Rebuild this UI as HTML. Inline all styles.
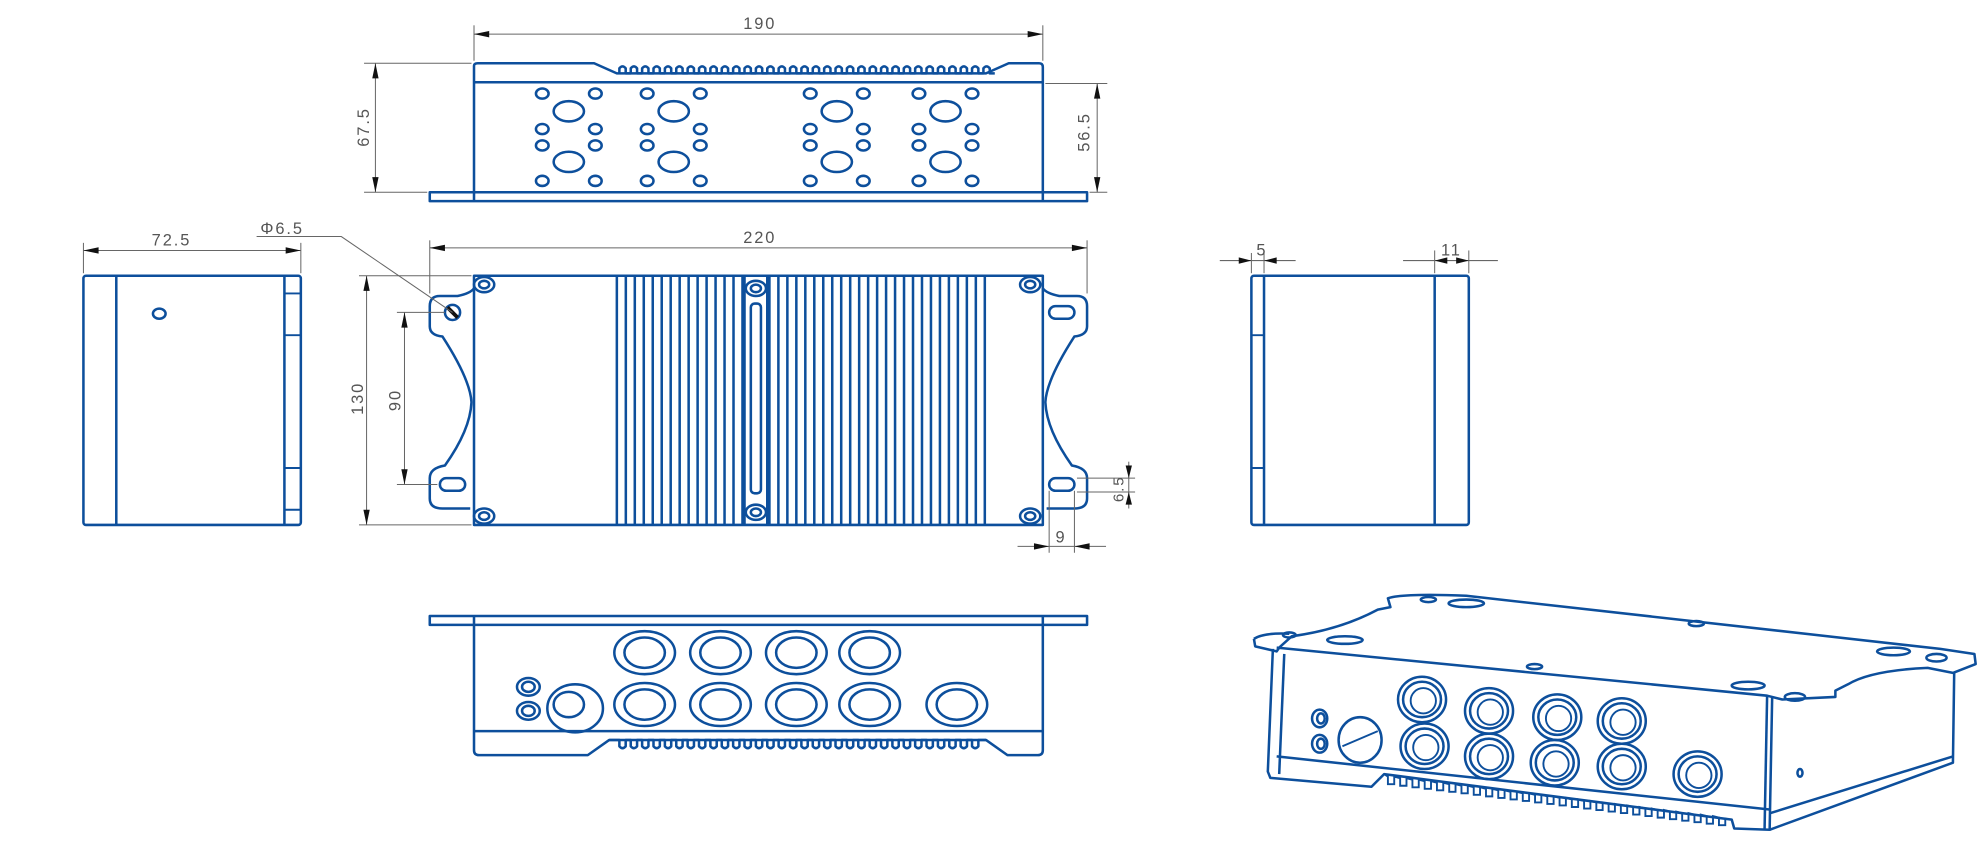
<!DOCTYPE html>
<html><head><meta charset="utf-8"><style>
html,body{margin:0;padding:0;background:#fff;}
svg{display:block;}
.b{fill:none;stroke:#0d4f9c;stroke-width:2;stroke-linejoin:round;}
.bt{fill:none;stroke:#0d4f9c;stroke-width:1.5;}
.d{fill:none;stroke:#666;stroke-width:0.8;}
.t{font-family:"Liberation Sans",sans-serif;font-size:13px;fill:#555;letter-spacing:1.5px;}
.ar{fill:#111;}
</style></head><body>
<svg id="s" width="1982" height="850" viewBox="0 0 1568 672" preserveAspectRatio="none" xmlns="http://www.w3.org/2000/svg">
<g id="g">
<!-- TOP VIEW -->
<path class="b" d="M375,159 V52 Q375,50 378,50 H470 L488,58 H780 L798,50 H822 Q825,50 825,53 V159"/>
<line class="b" x1="375" y1="65" x2="825" y2="65"/>
<rect class="b" x="340" y="152" width="520" height="7"/>
<g id="finsTop"></g>
<g id="holesTop"></g>
<line class="d" x1="375" y1="20" x2="375" y2="48"/><line class="d" x1="825" y1="20" x2="825" y2="48"/>
<line class="d" x1="375" y1="27" x2="825" y2="27"/>
<path class="ar" d="M375,27 l12,-2.5 v5z M825,27 l-12,-2.5 v5z"/>
<text class="t" x="588" y="23">190</text>
<line class="d" x1="288" y1="50" x2="373" y2="50"/><line class="d" x1="288" y1="152" x2="338" y2="152"/>
<line class="d" x1="297" y1="50" x2="297" y2="152"/>
<path class="ar" d="M297,50 l-2.5,12 h5z M297,152 l-2.5,-12 h5z"/>
<text class="t" transform="translate(292,116) rotate(-90)">67.5</text>
<line class="d" x1="827" y1="66" x2="876" y2="66"/><line class="d" x1="862" y1="152" x2="876" y2="152"/>
<line class="d" x1="868" y1="66" x2="868" y2="152"/>
<path class="ar" d="M868,66 l-2.5,12 h5z M868,152 l-2.5,-12 h5z"/>
<text class="t" transform="translate(862,120) rotate(-90)">56.5</text>

<!-- LEFT VIEW -->
<rect class="b" x="66" y="218" width="172" height="197" rx="2"/>
<line class="b" x1="92" y1="218" x2="92" y2="415"/>
<line class="b" x1="225" y1="218" x2="225" y2="415"/>
<path class="bt" d="M225,232 H238 M225,265 H238 M225,370 H238 M225,403 H238"/>
<ellipse class="b" cx="126" cy="248" rx="5" ry="4"/>
<line class="d" x1="66" y1="192" x2="66" y2="216"/><line class="d" x1="238" y1="192" x2="238" y2="216"/>
<line class="d" x1="66" y1="198" x2="238" y2="198"/>
<path class="ar" d="M66,198 l12,-2.5 v5z M238,198 l-12,-2.5 v5z"/>
<text class="t" x="120" y="194">72.5</text>

<!-- FRONT VIEW -->
<path class="b" d="M375,415 V218 H825 V415 Z"/>
<path class="b" d="M375,228 Q372,232 362,234 H348 Q340,234 340,242 V258 Q340,265 350,266 Q372,300 373,318 Q372,340 352,368 Q340,370 340,378 V394 Q340,402 350,402 H372"/>
<path class="b" d="M825,228 Q828,232 838,234 H852 Q860,234 860,242 V258 Q860,265 850,266 Q828,300 827,318 Q828,340 848,368 Q860,370 860,378 V394 Q860,402 850,402 H828"/>
<circle class="b" cx="358" cy="247" r="6"/>
<path d="M354,243 l8,8" stroke="#111" stroke-width="3"/>
<rect class="b" x="830" y="242" width="20" height="10" rx="5"/>
<rect class="b" x="348" y="378" width="20" height="10" rx="5"/>
<rect class="b" x="830" y="378" width="20" height="10" rx="5"/>
<g id="finsFront"></g>
<g id="screws"></g>
<line class="d" x1="340" y1="190" x2="340" y2="232"/><line class="d" x1="860" y1="190" x2="860" y2="232"/>
<line class="d" x1="340" y1="196" x2="860" y2="196"/>
<path class="ar" d="M340,196 l12,-2.5 v5z M860,196 l-12,-2.5 v5z"/>
<text class="t" x="588" y="192">220</text>
<line class="d" x1="284" y1="218" x2="373" y2="218"/><line class="d" x1="284" y1="415" x2="373" y2="415"/>
<line class="d" x1="290" y1="218" x2="290" y2="415"/>
<path class="ar" d="M290,218 l-2.5,12 h5z M290,415 l-2.5,-12 h5z"/>
<text class="t" transform="translate(287,328) rotate(-90)">130</text>
<line class="d" x1="314" y1="247" x2="352" y2="247"/><line class="d" x1="314" y1="383" x2="346" y2="383"/>
<line class="d" x1="320" y1="247" x2="320" y2="383"/>
<path class="ar" d="M320,247 l-2.5,12 h5z M320,383 l-2.5,-12 h5z"/>
<text class="t" transform="translate(317,325) rotate(-90)">90</text>
<path class="d" d="M203,187 H270 L358,247"/>
<text class="t" x="206" y="185" style="font-size:13px">&#934;6.5</text>
<line class="d" x1="830" y1="388" x2="830" y2="437"/><line class="d" x1="850" y1="388" x2="850" y2="437"/>
<line class="d" x1="805" y1="432" x2="875" y2="432"/>
<path class="ar" d="M830,432 l-12,-2.5 v5z M850,432 l12,-2.5 v5z"/>
<text class="t" x="835" y="429">9</text>
<line class="d" x1="852" y1="378" x2="898" y2="378"/><line class="d" x1="852" y1="389" x2="898" y2="389"/>
<line class="d" x1="893" y1="365" x2="893" y2="402"/>
<path class="ar" d="M893,378 l-2.5,-10 h5z M893,389 l-2.5,10 h5z"/>
<text class="t" transform="translate(889,397) rotate(-90)" style="font-size:12px">6.5</text>

<!-- RIGHT VIEW -->
<rect class="b" x="990" y="218" width="172" height="197" rx="2"/>
<line class="b" x1="1000" y1="218" x2="1000" y2="415"/>
<line class="b" x1="1135" y1="218" x2="1135" y2="415"/>
<path class="bt" d="M990,265 H1000 M990,370 H1000"/>
<line class="d" x1="990" y1="200" x2="990" y2="216"/><line class="d" x1="1000" y1="200" x2="1000" y2="216"/>
<line class="d" x1="965" y1="206" x2="1025" y2="206"/>
<path class="ar" d="M990,206 l-10,-2.5 v5z M1000,206 l10,-2.5 v5z"/>
<text class="t" x="994" y="202">5</text>
<line class="d" x1="1135" y1="198" x2="1135" y2="216"/><line class="d" x1="1162" y1="198" x2="1162" y2="216"/>
<line class="d" x1="1110" y1="206" x2="1185" y2="206"/>
<path class="ar" d="M1135,206 l10,-2.5 v5z M1162,206 l-10,-2.5 v5z"/>
<text class="t" x="1140" y="202">11</text>

<!-- BOTTOM VIEW -->
<rect class="b" x="340" y="487" width="520" height="7"/>
<path class="b" d="M375,487 V593 Q375,597 379,597 H465 L482,585 H780 L797,597 H821 Q825,597 825,593 V487"/>
<line class="b" x1="375" y1="578" x2="825" y2="578"/>
<g id="finsBot"></g>
<g id="holesBot"></g>
<ellipse class="b" cx="418" cy="543" rx="9" ry="7"/><ellipse class="b" cx="418" cy="543" rx="5" ry="4"/>
<ellipse class="b" cx="418" cy="562" rx="9" ry="7"/><ellipse class="b" cx="418" cy="562" rx="5" ry="4"/>
<ellipse class="b" cx="455" cy="560" rx="22" ry="19"/><ellipse class="b" cx="450" cy="557" rx="12" ry="10"/>

<!-- ISO VIEW -->
<path class="b" d="M992,505 L993,511 L1010,515 L1012,512 L1022,503 Q1060,498 1090,482 L1100,480 L1098,473 Q1110,469 1160,471 L1535,513 L1562,517 L1563,525 L1545,532 L1525,528 Q1480,530 1462,541 L1452,546 L1452,551 L1410,553 L1398,550 L1010,512"/>
<path class="b" d="M992,505 Q1000,500 1020,501"/>
<path class="b" d="M1007,513 L1003,610 L1005,615 L1085,622 L1095,612 L1370,648 L1372,655 L1400,656 L1402,551"/>
<path class="b" d="M1398,550 L1396,655"/>
<path class="b" d="M1400,656 L1545,603 L1546,532"/>
<path class="b" d="M1010,598 L1400,640"/>
<path class="b" d="M1400,643 L1545,598"/>
<path class="b" d="M1016,517 L1012,612"/>
<g id="iso"></g>
<ellipse class="b" cx="1044" cy="568" rx="6" ry="7"/><ellipse class="b" cx="1045" cy="568" rx="3" ry="4"/>
<ellipse class="b" cx="1044" cy="588" rx="6" ry="7"/><ellipse class="b" cx="1045" cy="588" rx="3" ry="4"/>
<ellipse class="b" cx="1076" cy="585" rx="17" ry="18"/><line class="bt" x1="1062" y1="590" x2="1090" y2="578"/>
<ellipse class="b" cx="1160" cy="477" rx="14" ry="3"/><ellipse class="b" cx="1064" cy="506" rx="14" ry="3"/>
<ellipse class="b" cx="1342" cy="493" rx="6" ry="2"/><ellipse class="b" cx="1214" cy="527" rx="6" ry="2"/>
<ellipse class="b" cx="1383" cy="542" rx="13" ry="3"/><ellipse class="b" cx="1498" cy="515" rx="13" ry="3"/>
<ellipse class="b" cx="1020" cy="502" rx="5" ry="2"/><ellipse class="b" cx="1130" cy="474" rx="6" ry="2"/>
<ellipse class="b" cx="1532" cy="520" rx="8" ry="3"/><ellipse class="b" cx="1420" cy="551" rx="8" ry="3"/>
<ellipse class="b" cx="1424" cy="611" rx="2" ry="3"/>
</g>
<script>
var ns="http://www.w3.org/2000/svg";
function el(p,t,a){var e=document.createElementNS(ns,t);for(var k in a)e.setAttribute(k,a[k]);e.setAttribute("class",a.c||"b");document.getElementById(p).appendChild(e);}
var d="M490,58";for(var x=490;x<780;x+=9){d+=" V54 Q"+(x+2.5)+",51 "+(x+5)+",54 V58 H"+(x+9);}
el("finsTop","path",{d:d});
var d2="M482,585";for(var x=490;x<778;x+=9){d2+=" H"+x+" V590 Q"+(x+2.5)+",593 "+(x+5)+",590 V585";}d2+=" H780";
el("finsBot","path",{d:d2});
[450,533,662,748].forEach(function(cx){
 el("holesTop","ellipse",{cx:cx,cy:88,rx:12,ry:8});el("holesTop","ellipse",{cx:cx,cy:128,rx:12,ry:8});
 [74,102,115,143].forEach(function(y){el("holesTop","ellipse",{cx:cx-21,cy:y,rx:5,ry:4});el("holesTop","ellipse",{cx:cx+21,cy:y,rx:5,ry:4});});
});
for(var x=488;x<=786;x+=7.1){ if(Math.abs(x-598)<8) continue; el("finsFront","line",{x1:x,y1:218,x2:x,y2:415});}
el("finsFront","line",{x1:589,y1:218,x2:589,y2:415});el("finsFront","line",{x1:607,y1:218,x2:607,y2:415});
el("finsFront","rect",{x:594,y:240,width:8,height:150,rx:3});
[[383,225],[815,225],[383,408],[815,408],[598,228],[598,405]].forEach(function(p){
 el("screws","ellipse",{cx:p[0],cy:p[1],rx:8,ry:6,fill:"#fff"});el("screws","ellipse",{cx:p[0],cy:p[1],rx:4,ry:3});});
[[510,516],[570,516],[630,516],[688,516],[510,557],[570,557],[630,557],[688,557],[757,557]].forEach(function(p){
 el("holesBot","ellipse",{cx:p[0],cy:p[1],rx:24,ry:17});el("holesBot","ellipse",{cx:p[0],cy:p[1],rx:16,ry:12});});
[[1125,553],[1178,562],[1232,567],[1283,570],[1127,590],[1178,598],[1230,603],[1283,606],[1343,612]].forEach(function(p){
 el("iso","ellipse",{cx:p[0],cy:p[1],rx:19,ry:18});el("iso","ellipse",{cx:p[0],cy:p[1],rx:15,ry:14});el("iso","ellipse",{cx:p[0]+1,cy:p[1]+1,rx:10,ry:10,c:"bt"});});
var d3="M1095,612";for(var i=0;i<28;i++){var x=1098+i*9.7,y=614+i*1.2;d3+=" L"+x+","+y+" v6 h5 v-6";}
el("iso","path",{d:d3,c:"bt"});
</script>
</svg>
</body></html>
